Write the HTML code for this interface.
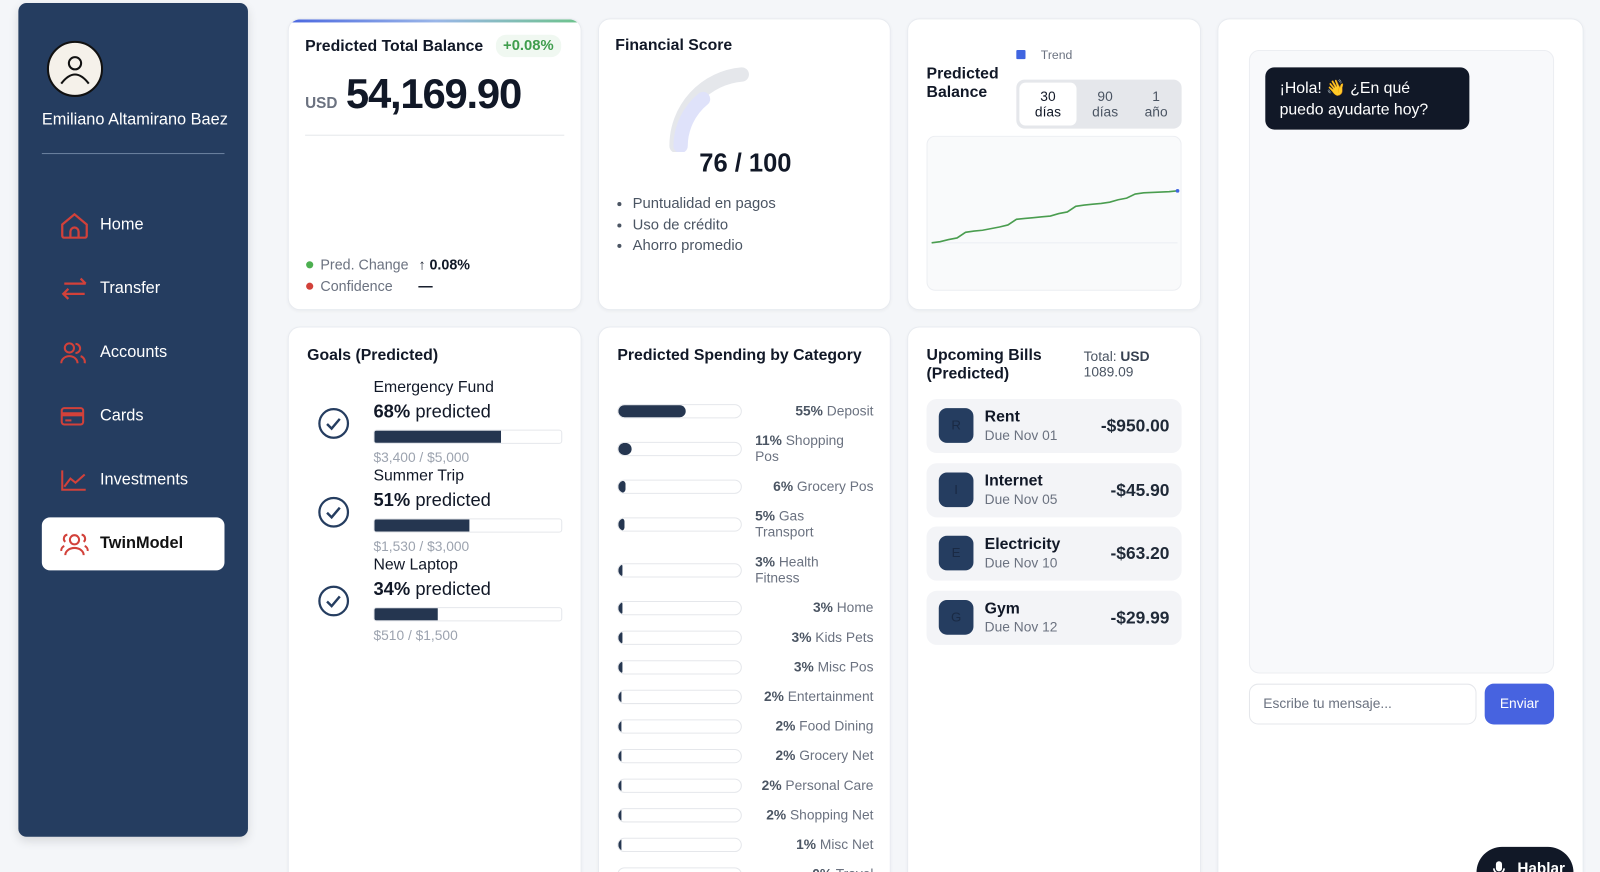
<!DOCTYPE html>
<html><head><meta charset="utf-8">
<style>
*{box-sizing:border-box;margin:0;padding:0}
html,body{width:1600px;height:872px;overflow:hidden;background:#f4f6f9}
body{font-family:"Liberation Sans","Noto Sans CJK JP",sans-serif;color:#111827;position:relative}
#wrap{position:absolute;left:0;top:0;width:1568px;height:855px;transform:scale(1.0204);transform-origin:0 0}
.abs{position:absolute}
.card{position:absolute;background:#fff;border:1px solid #e8ebf0;border-radius:12px;box-shadow:0 1px 3px rgba(0,0,0,.04)}
.side{left:18px;top:3px;width:225px;height:817px;background:#253d60;border-radius:8px;box-shadow:0 4px 10px rgba(0,0,0,.12)}
.nav{position:absolute;left:41px;width:179px;height:52px;display:flex;align-items:center;color:#fff;font-size:16px}
.nav svg{position:absolute;left:18px}
.nav span{position:absolute;left:57px}
.h{font-weight:bold;font-size:15.5px;color:#111827}
.muted{color:#6b7280}
</style></head><body>
<div id="wrap">
<div class="side abs">
  <div class="abs" style="left:28px;top:37px;width:55px;height:55px;border-radius:50%;background:#f5f1ea;border:2px solid #111">
    <svg width="51" height="51" viewBox="0 0 51 51"><circle cx="25.5" cy="20" r="6" fill="none" stroke="#111" stroke-width="2"/><path d="M12 40 Q25.5 22 39 40" fill="none" stroke="#111" stroke-width="2"/></svg>
  </div>
  <div class="abs" style="left:23px;top:106px;color:#fff;font-size:16px;white-space:nowrap">Emiliano Altamirano Baez</div>
  <div class="abs" style="left:23px;top:147px;width:179px;height:1px;background:#6d82a0"></div>
</div>
<div class="nav" style="top:195px"><svg width="28" height="26" viewBox="0 0 28 26"><path d="M2 12 L14 2 L26 12 V23 a2 2 0 0 1-2 2 H4 a2 2 0 0 1-2-2Z M10 25 V19 a4 4 0 0 1 8 0 V25" fill="none" stroke="#d2413a" stroke-width="2.2"/></svg><span>Home</span></div>
<div class="nav" style="top:257px"><svg width="28" height="24" viewBox="0 0 28 24"><path d="M4 7 H25 M20 2 L25 7 M24 17 H3 M8 12 L3 17 L8 22" fill="none" stroke="#d2413a" stroke-width="2.2"/></svg><span>Transfer</span></div>
<div class="nav" style="top:320px"><svg width="26" height="22" viewBox="0 0 26 22"><circle cx="9" cy="6" r="4.5" fill="none" stroke="#d2413a" stroke-width="2"/><path d="M1 21 a8 7 0 0 1 16 0 M15 2 a4.5 4.5 0 0 1 0 9 M20 14 a6 6 0 0 1 4 7" fill="none" stroke="#d2413a" stroke-width="2"/></svg><span>Accounts</span></div>
<div class="nav" style="top:382px"><svg width="24" height="20" viewBox="0 0 24 20"><rect x="1.5" y="2" width="21" height="16" rx="2.5" fill="none" stroke="#d2413a" stroke-width="2"/><rect x="1.5" y="6" width="21" height="4" fill="#d2413a"/><rect x="5" y="13" width="6" height="2" fill="#d2413a"/></svg><span>Cards</span></div>
<div class="nav" style="top:445px"><svg width="26" height="22" viewBox="0 0 26 22"><path d="M2 1 V20 H25 M4 17 L10 9 L15 13 L24 5" fill="none" stroke="#d2413a" stroke-width="2"/></svg><span>Investments</span></div>
<div class="nav" style="top:507px;background:#fff;border-radius:8px;color:#111;font-weight:bold"><svg width="28" height="24" viewBox="0 0 28 24"><circle cx="14" cy="8" r="4.5" fill="none" stroke="#d2413a" stroke-width="2"/><path d="M5 23 a9 7 0 0 1 18 0 M7 3 a4 4 0 0 0 -2 7 M21 3 a4 4 0 0 1 2 7 M1 19 a5 5 0 0 1 3-5 M27 19 a5 5 0 0 0-3-5" fill="none" stroke="#d2413a" stroke-width="2"/></svg><span>TwinModel</span></div>

<!-- Predicted total balance -->
<div class="card" style="left:282px;top:18px;width:288px;height:286px;overflow:hidden">
  <div class="abs" style="left:0;top:0;width:288px;height:3px;background:linear-gradient(90deg,#4a67e0,#9ab6e8,#6cc38a)"></div>
  <div class="abs h" style="left:16px;top:18px">Predicted Total Balance</div>
  <div class="abs" style="left:203px;top:15px;padding:3px 7px;background:#f0f8f1;border-radius:10px;color:#3f9d4d;font-weight:bold;font-size:14.5px">+0.08%</div>
  <div class="abs muted" style="left:16px;top:74px;font-size:15px;font-weight:bold">USD</div>
  <div class="abs" style="left:56px;top:50px;font-size:41px;font-weight:bold;letter-spacing:-1.2px">54,169.90</div>
  <div class="abs" style="left:16px;top:113px;width:254px;height:1px;background:#e5e7eb"></div>
  <div class="abs" style="left:17px;top:237px;width:7px;height:7px;border-radius:50%;background:#4caf50"></div>
  <div class="abs muted" style="left:31px;top:232px;font-size:14px">Pred. Change</div>
  <div class="abs" style="left:127px;top:232px;font-size:14px;font-weight:bold">↑ 0.08%</div>
  <div class="abs" style="left:17px;top:258px;width:7px;height:7px;border-radius:50%;background:#d2413a"></div>
  <div class="abs muted" style="left:31px;top:253px;font-size:14px">Confidence</div>
  <div class="abs" style="left:127px;top:253px;font-size:14px;font-weight:bold">—</div>
</div>

<!-- Financial score -->
<div class="card" style="left:586px;top:18px;width:287px;height:286px">
  <div class="abs h" style="left:16px;top:17px">Financial Score</div>
  <svg class="abs" style="left:62px;top:40px" width="100" height="90">
    <path d="M14 84 A70 70 0 0 1 78 14" fill="none" stroke="#e5e7eb" stroke-width="14" stroke-linecap="round"/>
    <path d="M18 84 A60 60 0 0 1 40 38" fill="none" stroke="#dfe2fa" stroke-width="14" stroke-linecap="round"/>
  </svg>
  <div class="abs" style="left:0;width:287px;top:127px;text-align:center;font-size:25px;font-weight:bold">76 / 100</div>
  <ul class="abs" style="left:33px;top:171px;font-size:14.5px;color:#4b5563;line-height:20.5px">
    <li>Puntualidad en pagos</li><li>Uso de crédito</li><li>Ahorro promedio</li>
  </ul>
</div>

<!-- Predicted balance chart -->
<div class="card" style="left:889px;top:18px;width:288px;height:286px">
  <div class="abs" style="left:106px;top:30px;width:9px;height:9px;background:#4065e0;border-radius:1px"></div>
  <div class="abs muted" style="left:130px;top:28px;font-size:12px">Trend</div>
  <div class="abs h" style="left:18px;top:45px;line-height:18px">Predicted<br>Balance</div>
  <div class="abs" style="left:106px;top:59px;width:162px;height:48px;background:#e5e7eb;border-radius:8px">
    <div class="abs" style="left:3px;top:3px;width:56px;height:42px;background:#fff;border-radius:6px;font-size:13.5px;text-align:center;padding-top:6px;line-height:15px">30<br>días</div>
    <div class="abs" style="left:62px;top:3px;width:50px;height:42px;font-size:13.5px;text-align:center;padding-top:6px;line-height:15px;color:#4b5563">90<br>días</div>
    <div class="abs" style="left:112px;top:3px;width:50px;height:42px;font-size:13.5px;text-align:center;padding-top:6px;line-height:15px;color:#4b5563">1<br>año</div>
  </div>
  <svg id="lc" class="abs" style="left:18px;top:114px" width="250" height="152"></svg>
</div>

<!-- Goals -->
<div class="card" style="left:282px;top:320px;width:288px;height:570px">
  <div class="abs h" style="left:18px;top:19px">Goals (Predicted)</div>
  <div id="goals"></div>
</div>

<!-- Spending -->
<div class="card" style="left:586px;top:320px;width:287px;height:570px">
  <div class="abs h" style="left:18px;top:19px">Predicted Spending by Category</div>
  <div id="spend"></div>
</div>

<!-- Bills -->
<div class="card" style="left:889px;top:320px;width:288px;height:570px">
  <div class="abs h" style="left:18px;top:19px;line-height:18px">Upcoming Bills<br>(Predicted)</div>
  <div class="abs" style="left:172px;top:21px;font-size:13.5px;line-height:15px;color:#4b5563">Total: <b style="color:#374151">USD</b><br>1089.09</div>
  <div id="bills"></div>
</div>

<!-- Chat -->
<div class="card" style="left:1193px;top:18px;width:359px;height:880px">
  <div class="abs" style="left:30px;top:30px;width:299px;height:611px;background:#f8f9fb;border:1px solid #eceef2;border-radius:10px">
    <div class="abs" style="left:15px;top:16px;width:200px;height:61px;background:#111827;color:#fff;border-radius:9px;padding:10px 14px;font-size:15.5px;line-height:21px;white-space:nowrap">¡Hola! 👋 ¿En qué<br>puedo ayudarte hoy?</div>
  </div>
  <div class="abs" style="left:30px;top:651px;width:223px;height:40px;border:1px solid #e5e7eb;border-radius:9px;font-size:13.5px;color:#6b7280;padding:11px 13px">Escribe tu mensaje...</div>
  <div class="abs" style="left:261px;top:651px;width:68px;height:40px;background:#4763e0;border-radius:9px;color:#fff;font-size:13.5px;text-align:center;line-height:40px">Enviar</div>
  <div class="abs" style="left:253px;top:811px;width:95px;height:50px;background:#111827;border-radius:25px;color:#fff;font-weight:bold;font-size:15px;padding:13px 0 0 40px">
    <svg class="abs" style="left:15px;top:13px" width="14" height="18" viewBox="0 0 14 18"><rect x="4" y="1" width="6" height="10" rx="3" fill="#fff"/><path d="M2 8 a5 5 0 0 0 10 0 M7 13 V17" fill="none" stroke="#fff" stroke-width="1.6"/></svg>Hablar</div>
</div>
</div>

<script>
// ---- line chart data
const balanceDays = [1,2,3,4,5,6,7,8,9,10,11,12,13,14,15,16,17,18,19,20,21,22,23,24,25,26,27,28,29,30];
const balanceValues = [54000,54003,54008,54012,54026,54029,54031,54035,54039,54044,54058,54060,54062,54064,54066,54072,54076,54090,54093,54095,54097,54100,54106,54110,54120,54123,54124,54125,54126,54128];
const goalNames = ["Emergency Fund","Summer Trip","New Laptop"];
const goalPcts = [68,51,34];
const goalAmounts = ["$3,400 / $5,000","$1,530 / $3,000","$510 / $1,500"];
const spendPcts = [55,11,6,5,3,3,3,3,2,2,2,2,2,1,0];
const spendNames = ["Deposit","Shopping Pos","Grocery Pos","Gas Transport","Health Fitness","Home","Kids Pets","Misc Pos","Entertainment","Food Dining","Grocery Net","Personal Care","Shopping Net","Misc Net","Travel"];
const spendWrap = [false,true,false,true,true,false,false,false,false,false,false,false,false,false,false];
const billNames = ["Rent","Internet","Electricity","Gym"];
const billDue = ["Due Nov 01","Due Nov 05","Due Nov 10","Due Nov 12"];
const billAmounts = ["-$950.00","-$45.90","-$63.20","-$29.99"];

const NS="http://www.w3.org/2000/svg";
(function(){
  const svg=document.getElementById('lc');
  const bg=document.createElementNS(NS,'rect');
  bg.setAttribute('x',0.5);bg.setAttribute('y',0.5);bg.setAttribute('width',249);bg.setAttribute('height',151);bg.setAttribute('rx',8);
  bg.setAttribute('fill','#f9fafb');bg.setAttribute('stroke','#eceef2');
  
  
  svg.appendChild(bg);
  const vmin=Math.min(...balanceValues), vmax=Math.max(...balanceValues);
  const x=d=>5+(d-balanceDays[0])/(balanceDays[balanceDays.length-1]-balanceDays[0])*241;
  const y=v=>105-(v-vmin)/(vmax-vmin)*51;
  const g=document.createElementNS(NS,'line');
  g.setAttribute('x1',5);g.setAttribute('x2',246);g.setAttribute('y1',y(vmin));g.setAttribute('y2',y(vmin));g.setAttribute('stroke','#eceef2');
  
  
  svg.appendChild(g);
  const p=document.createElementNS(NS,'polyline');
  p.setAttribute('points',balanceValues.map((v,i)=>x(balanceDays[i])+','+y(v)).join(' '));
  p.setAttribute('fill','none');p.setAttribute('stroke','#4a9d4f');p.setAttribute('stroke-width',1.6);
  
  
  svg.appendChild(p);
  const n=balanceValues.length-1;
  const c=document.createElementNS(NS,'circle');
  c.setAttribute('cx',x(balanceDays[n]));c.setAttribute('cy',y(balanceValues[n]));c.setAttribute('r',1.8);c.setAttribute('fill','#4065e0');
  
  
  svg.appendChild(c);
})();

(function(){
  const root=document.getElementById('goals');
  goalNames.forEach((n,i)=>{
    const top=48+i*87;
    const d=document.createElement('div');
    d.className='abs';d.style.left='0';d.style.top=top+'px';d.style.width='288px';d.style.height='87px';
    
    
    d.innerHTML='<svg class="abs" style="left:28px;top:30px" width="32" height="32"><circle cx="16" cy="16" r="14" fill="none" stroke="#253d60" stroke-width="2.2"/><path d="M9.5 16.5 L14 21 L22 11.5" fill="none" stroke="#253d60" stroke-width="2.4"/></svg>'+
      '<div class="abs" style="left:83px;top:2px;font-size:15.5px">'+n+'</div>'+
      '<div class="abs" style="left:83px;top:24px;font-size:18px"><b>'+goalPcts[i]+'%</b> predicted</div>'+
      '<div class="abs" style="left:83px;top:52px;width:185px;height:14px;border:1px solid #e5e7eb;border-radius:3px;overflow:hidden"><div style="height:100%;width:'+goalPcts[i]+'%;background:#253650"></div></div>'+
      '<div class="abs" style="left:83px;top:72px;font-size:13.5px;color:#9ca3af">'+goalAmounts[i]+'</div>';
    root.appendChild(d);
  });
})();

(function(){
  const root=document.getElementById('spend');
  let cy=82;
  spendPcts.forEach((p,i)=>{
    if(i>0) cy+=14.5+(spendWrap[i-1]?8:0)+14.5+(spendWrap[i]?8:0);
    const d=document.createElement('div');
    d.className='abs';d.style.left='0';d.style.top=(cy-20)+'px';d.style.width='287px';d.style.height='40px';
    
    
    const lbl=spendWrap[i]
      ? '<div class="abs" style="left:153px;top:4px;font-size:13.5px;line-height:15.5px;color:#6b7280"><b style="color:#4b5563">'+p+'%</b> '+spendNames[i].replace(' ','<br>')+'</div>'
      : '<div class="abs" style="right:18px;top:12px;font-size:13.5px;color:#6b7280;white-space:nowrap"><b style="color:#4b5563">'+p+'%</b> '+spendNames[i]+'</div>';
    d.innerHTML='<div class="abs" style="left:18px;top:13px;width:122px;height:14px;border:1px solid #e5e7eb;border-radius:7px;overflow:hidden"><div style="height:100%;width:'+p+'%;min-width:'+(p>0?3:0)+'px;background:#253650;border-radius:7px"></div></div>'+lbl;
    root.appendChild(d);
  });
})();

(function(){
  const root=document.getElementById('bills');
  billNames.forEach((n,i)=>{
    const d=document.createElement('div');
    d.className='abs';d.style.left='18px';d.style.top=(70+i*62.5)+'px';d.style.width='250px';d.style.height='53px';
    d.style.background='#f3f4f7';d.style.borderRadius='10px';
    
    
    d.innerHTML='<div class="abs" style="left:12px;top:9px;width:34px;height:34px;border-radius:8px;background:#253d60;color:#1a2a44;font-size:13px;text-align:center;line-height:34px">'+n[0]+'</div>'+
      '<div class="abs" style="left:57px;top:9px;font-size:15.5px;font-weight:bold">'+n+'</div>'+
      '<div class="abs" style="left:57px;top:28px;font-size:13.5px;color:#6b7280">'+billDue[i]+'</div>'+
      '<div class="abs" style="right:12px;top:17px;font-size:17px;font-weight:bold;color:#1f2937">'+billAmounts[i]+'</div>';
    root.appendChild(d);
  });
})();
</script>
</body></html>
